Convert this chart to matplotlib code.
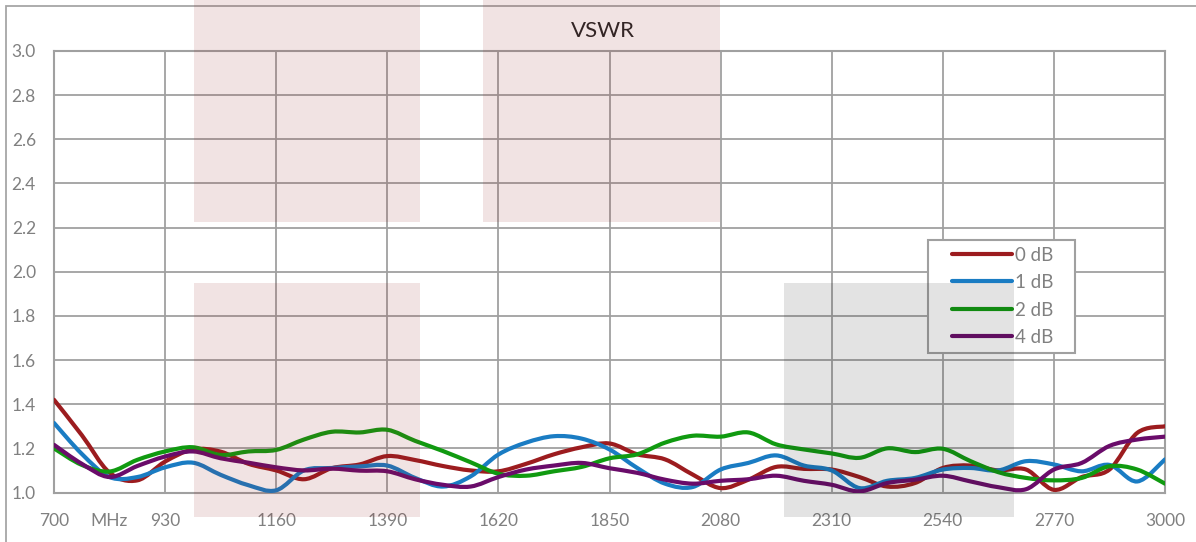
# ===============================
# 1. Import Libraries
# ===============================

import numpy as np
import matplotlib
matplotlib.use("Agg")
import matplotlib.pyplot as plt
from matplotlib.patches import Rectangle, PathPatch
from matplotlib.path import Path
from matplotlib.lines import Line2D
from matplotlib.legend_handler import HandlerLine2D


# ===============================
# 2. Data
# ===============================

freq_mhz = [700, 757.5, 815, 872.5, 930, 987.5, 1045, 1102.5, 1160, 1217.5,
            1275, 1332.5, 1390, 1447.5, 1505, 1562.5, 1620, 1677.5, 1735, 1792.5,
            1850, 1907.5, 1965, 2022.5, 2080, 2137.5, 2195, 2252.5, 2310, 2367.5,
            2425, 2482.5, 2540, 2597.5, 2655, 2712.5, 2770, 2827.5, 2885, 2942.5,
            3000]

vswr_0db = [1.42, 1.26, 1.09, 1.055, 1.14, 1.195, 1.185, 1.13, 1.10, 1.06,
            1.11, 1.127, 1.165, 1.147, 1.12, 1.10, 1.096, 1.13, 1.173, 1.205,
            1.222, 1.173, 1.15, 1.081, 1.02, 1.058, 1.116, 1.107, 1.104, 1.07,
            1.027, 1.043, 1.111, 1.122, 1.10, 1.104, 1.012, 1.07, 1.104, 1.27,
            1.30]

vswr_1db = [1.315, 1.175, 1.07, 1.07, 1.114, 1.135, 1.08, 1.033, 1.01, 1.10,
            1.111, 1.118, 1.122, 1.066, 1.027, 1.073, 1.172, 1.226, 1.255, 1.244,
            1.195, 1.111, 1.04, 1.025, 1.104, 1.134, 1.168, 1.122, 1.10, 1.02,
            1.053, 1.066, 1.104, 1.111, 1.10, 1.142, 1.127, 1.096, 1.125, 1.05,
            1.15]

vswr_2db = [1.20, 1.125, 1.095, 1.148, 1.186, 1.205, 1.17, 1.186, 1.193, 1.24,
            1.275, 1.272, 1.284, 1.234, 1.188, 1.137, 1.085, 1.076, 1.096, 1.116,
            1.155, 1.173, 1.226, 1.257, 1.253, 1.272, 1.218, 1.195, 1.177, 1.157,
            1.20, 1.183, 1.198, 1.142, 1.092, 1.066, 1.055, 1.066, 1.119, 1.104,
            1.04]

vswr_4db = [1.216, 1.13, 1.07, 1.12, 1.163, 1.186, 1.155, 1.135, 1.114, 1.10,
            1.108, 1.099, 1.096, 1.06, 1.035, 1.027, 1.07, 1.104, 1.122, 1.134,
            1.11, 1.089, 1.058, 1.04, 1.053, 1.06, 1.076, 1.053, 1.035, 1.005,
            1.043, 1.058, 1.076, 1.05, 1.024, 1.015, 1.104, 1.134, 1.211, 1.24,
            1.253]

series_labels = ["0 dB", "1 dB", "2 dB", "4 dB"]
series_colors = ["#9c1c1f", "#1a7cc3", "#109a10", "#6a0c6a"]

x_ticks = [700, 930, 1160, 1390, 1620, 1850, 2080, 2310, 2540, 2770, 3000]
y_ticks = [1.0, 1.2, 1.4, 1.6, 1.8, 2.0, 2.2, 2.4, 2.6, 2.8, 3.0]


# ===============================
# 3. Helpers
# ===============================

def smooth_path(xs, ys):
    # Excel-style smoothed line: cubic bezier through every data point
    x = np.asarray(xs, float)
    y = np.asarray(ys, float)
    px = np.concatenate([[x[0]], x, [x[-1]]])
    py = np.concatenate([[y[0]], y, [y[-1]]])
    verts = [(x[0], y[0])]
    codes = [Path.MOVETO]
    for i in range(1, len(x)):
        c1 = (px[i] + (px[i + 1] - px[i - 1]) / 6, py[i] + (py[i + 1] - py[i - 1]) / 6)
        c2 = (px[i + 1] - (px[i + 2] - px[i]) / 6, py[i + 1] - (py[i + 2] - py[i]) / 6)
        verts += [c1, c2, (px[i + 1], py[i + 1])]
        codes += [Path.CURVE4] * 3
    return Path(verts, codes)


class ShiftedLine(HandlerLine2D):
    # legend line drawn in the right part of the handle box
    def get_xdata(self, legend, xdescent, ydescent, width, height, fontsize):
        x0 = -xdescent + width * 0.23
        x1 = -xdescent + width
        return np.array([x0, x1]), np.array([x0, x1])


# ===============================
# 4. Figure Setup
# ===============================

W, H = 1196, 542
plt.rcParams['font.family'] = ['Lato', 'DejaVu Sans']

fig = plt.figure(figsize=(W / 100, H / 100), dpi=100)
ax = fig.add_axes([54 / W, 1 - 492.5 / H, (1165 - 54) / W, (492.5 - 51) / H])
ax.set_facecolor("none")

grid_color = "#a0a0a0"
label_color = "#808080"


# ===============================
# 5. Plot VSWR Lines
# ===============================

all_series = [vswr_0db, vswr_1db, vswr_2db, vswr_4db]
handles = []
for vals, lab, col in zip(all_series, series_labels, series_colors):
    patch = PathPatch(smooth_path(freq_mhz, vals), facecolor='none', edgecolor=col,
                      linewidth=3.0, capstyle='round', joinstyle='round', zorder=3)
    ax.add_patch(patch)
    handles.append(Line2D([], [], color=col, linewidth=3.0, solid_capstyle='round', label=lab))

ax.set_xlim(700, 3000)
ax.set_ylim(1.0, 3.0)

ax.set_xticks(x_ticks)
ax.set_xticks([815], minor=True)
ax.set_xticklabels([str(t) for t in x_ticks])
ax.set_xticklabels(["MHz"], minor=True)
ax.set_yticks(y_ticks)
ax.set_yticklabels(["%.1f" % t for t in y_ticks])

ax.tick_params(axis='both', which='both', length=0, labelsize=12.5, labelcolor=label_color)
ax.tick_params(axis='x', which='both', pad=15)
ax.tick_params(axis='y', pad=13)

ax.grid(True, which='major', color=grid_color, linewidth=1.3, zorder=1)
ax.set_axisbelow(True)
for s in ax.spines.values():
    s.set_color(grid_color)
    s.set_linewidth(1.5)

fig.text(603 / W, 1 - 31 / H, "VSWR", ha='center', va='center',
         fontsize=16, color="#262626")

leg_x = (928 - 54) / 1111
leg_top = (492.5 - 240) / 441.5
leg_w = 147 / 1111
leg_h = 110 / 441.5
leg = ax.legend(handles=handles, loc='upper left',
                bbox_to_anchor=(leg_x, leg_top - leg_h, leg_w, leg_h), mode='expand',
                borderaxespad=0, frameon=True, fancybox=False, fontsize=13.5,
                handlelength=4.15, handletextpad=0.15, labelspacing=0.56,
                borderpad=0.35, labelcolor=label_color,
                handler_map={Line2D: ShiftedLine()})
leg.get_frame().set_edgecolor(grid_color)
leg.get_frame().set_linewidth(1.5)
leg.get_frame().set_facecolor("white")
leg.get_frame().set_alpha(1)


# ===============================
# 6. Background Shading + Border
# ===============================

def px_rect(x0, y0, x1, y1, color, alpha):
    r = Rectangle((x0 / W, 1 - y1 / H), (x1 - x0) / W, (y1 - y0) / H,
                  transform=fig.transFigure, facecolor=color, alpha=alpha,
                  edgecolor='none', zorder=5)
    fig.add_artist(r)

px_rect(194, 0, 420, 222, "#931f1f", 0.12)
px_rect(483, 0, 720, 222, "#931f1f", 0.12)
px_rect(194, 283, 420, 517, "#931f1f", 0.12)
px_rect(784, 283, 1014, 517, "#1e1e1e", 0.12)

border = Rectangle((6 / W, -0.1), 1.2, 1 - 6 / H + 0.1, transform=fig.transFigure,
                   facecolor='none', edgecolor="#a6a6a6", linewidth=1.3, zorder=0)
fig.add_artist(border)

plt.savefig("out.png", dpi=100)
